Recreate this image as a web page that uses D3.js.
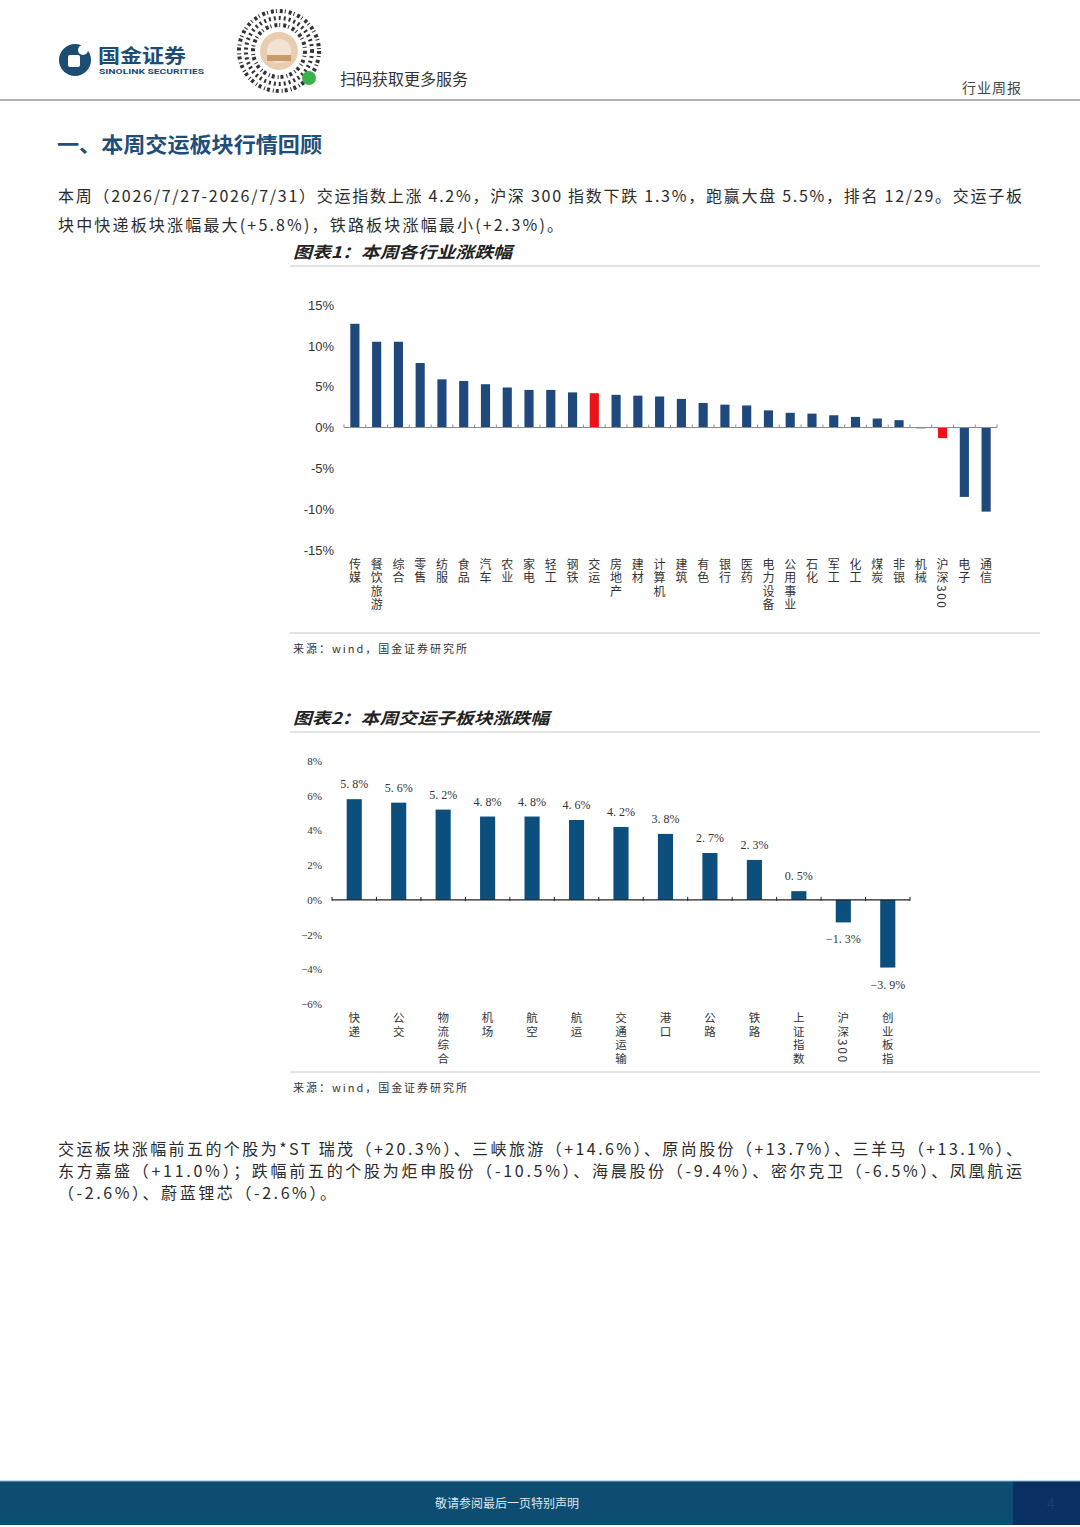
<!DOCTYPE html>
<html lang="zh">
  <head>
    <meta charset="UTF-8" />
    <script src="https://d3js.org/d3.v7.min.js"></script>
    <title>交运行业周报</title>
    <style>
      body { margin: 0; background: #fff; }
      text { font-family: "Noto Sans CJK SC", "Noto Sans", sans-serif; }
      .vlabel { writing-mode: vertical-rl; text-orientation: mixed; }
    </style>
  </head>
  <body>
    <div id="page"></div>

    <script>
      // chart 1: industry weekly change (%)
      const industries = [
        "传媒", "餐饮旅游", "综合", "零售", "纺服", "食品", "汽车", "农业", "家电", "轻工",
        "钢铁", "交运", "房地产", "建材", "计算机", "建筑", "有色", "银行", "医药", "电力设备",
        "公用事业", "石化", "军工", "化工", "煤炭", "非银", "机械", "沪深300", "电子", "通信",
      ];
      const industryChange = [
        12.7, 10.5, 10.5, 7.9, 5.9, 5.7, 5.3, 4.9, 4.6, 4.6,
        4.3, 4.2, 4.0, 3.9, 3.8, 3.5, 3.0, 2.8, 2.7, 2.1,
        1.8, 1.7, 1.5, 1.3, 1.1, 0.9, -0.1, -1.3, -8.5, -10.3,
      ];
      const highlighted = ["交运", "沪深300"];
      const ticks1 = [15, 10, 5, 0, -5, -10, -15];

      // chart 2: transport sub-sectors (%)
      const subSectors = [
        "快递", "公交", "物流综合", "机场", "航空", "航运", "交通运输",
        "港口", "公路", "铁路", "上证指数", "沪深300", "创业板指",
      ];
      const subChange = [5.8, 5.6, 5.2, 4.8, 4.8, 4.6, 4.2, 3.8, 2.7, 2.3, 0.5, -1.3, -3.9];
      const ticks2 = [8, 6, 4, 2, 0, -2, -4, -6];

      const W = 1080, H = 1527;
      const ink = "#2b2b2b";
      const svg = d3.select("#page").append("svg").attr("width", W).attr("height", H);

      // ---------- header ----------
      const head = svg.append("g");
      head.append("circle").attr("cx", 75).attr("cy", 60).attr("r", 16).attr("fill", "#1d4d73");
      head.append("rect").attr("x", 68).attr("y", 55).attr("width", 12).attr("height", 12)
        .attr("rx", 2).attr("fill", "#fff");
      head.append("circle").attr("cx", 83).attr("cy", 50).attr("r", 5).attr("fill", "#fff");
      head.append("text").attr("x", 98).attr("y", 63).text("国金证券")
        .attr("font-size", 19).attr("font-weight", 700).attr("fill", "#1d4d73")
        .attr("textLength", 88).attr("lengthAdjust", "spacingAndGlyphs");
      head.append("text").attr("x", 99).attr("y", 74).text("SINOLINK SECURITIES")
        .attr("font-size", 8).attr("font-weight", 700).attr("fill", "#1d4d73")
        .style("font-family", "Roboto, sans-serif")
        .attr("textLength", 105).attr("lengthAdjust", "spacingAndGlyphs");

      // mini-program code (decorative)
      const qr = head.append("g").attr("transform", "translate(279,51)");
      [40, 33, 26].forEach((r, i) => {
        qr.append("circle").attr("r", r).attr("fill", "none").attr("stroke", "#333")
          .attr("stroke-width", 4).attr("stroke-dasharray", i === 1 ? "2 3" : "3 2 1 3");
      });
      qr.append("circle").attr("r", 19).attr("fill", "#e9cdb0");
      qr.append("circle").attr("r", 12).attr("fill", "#f3e3d3");
      qr.append("rect").attr("x", -12).attr("y", 4).attr("width", 24).attr("height", 6).attr("fill", "#c99a6a");
      qr.append("circle").attr("cx", 30).attr("cy", 27).attr("r", 7).attr("fill", "#3bb34a");
      head.append("text").attr("x", 340).attr("y", 85).text("扫码获取更多服务")
        .attr("font-size", 16).attr("fill", "#333");
      head.append("text").attr("x", 1022).attr("y", 93).text("行业周报")
        .attr("text-anchor", "end").attr("font-size", 14).attr("fill", "#444")
        .attr("letter-spacing", 1);
      head.append("line").attr("x1", 0).attr("x2", W).attr("y1", 100).attr("y2", 100)
        .attr("stroke", "#9a9a9a").attr("stroke-width", 1.5);

      // ---------- text blocks ----------
      svg.append("text").attr("x", 57).attr("y", 152).text("一、本周交运板块行情回顾")
        .attr("font-size", 21).attr("font-weight", 700).attr("fill", "#1f4e79")
        .attr("textLength", 265).attr("lengthAdjust", "spacingAndGlyphs");

      function para(lines, x, y0, lh) {
        lines.forEach(([s, len], i) => {
          const t = svg.append("text").attr("x", x).attr("y", y0 + i * lh).text(s)
            .attr("font-size", 16).attr("fill", ink);
          if (len) t.attr("textLength", len).attr("lengthAdjust", "spacing");
        });
      }
      para([
        ["本周（2026/7/27-2026/7/31）交运指数上涨 4.2%，沪深 300 指数下跌 1.3%，跑赢大盘 5.5%，排名 12/29。交运子板", 964],
        ["块中快递板块涨幅最大(+5.8%)，铁路板块涨幅最小(+2.3%)。", 505],
      ], 58, 202, 29);

      para([
        ["交运板块涨幅前五的个股为*ST 瑞茂（+20.3%）、三峡旅游（+14.6%）、原尚股份（+13.7%）、三羊马（+13.1%）、", 964],
        ["东方嘉盛（+11.0%）；跌幅前五的个股为炬申股份（-10.5%）、海晨股份（-9.4%）、密尔克卫（-6.5%）、凤凰航运", 964],
        ["（-2.6%）、蔚蓝锂芯（-2.6%）。", 278],
      ], 58, 1155, 22);

      // ---------- chart helpers ----------
      function frame(title, titleLen, yTitle, yRule, yBottom) {
        svg.append("text").attr("x", 293).attr("y", yTitle).text(title)
          .attr("font-size", 16).attr("font-weight", 700).attr("font-style", "italic")
          .attr("fill", "#222")
          .attr("textLength", titleLen).attr("lengthAdjust", "spacingAndGlyphs");
        svg.append("line").attr("x1", 290).attr("x2", 1040).attr("y1", yRule).attr("y2", yRule)
          .attr("stroke", "#c8c8c8");
        svg.append("line").attr("x1", 290).attr("x2", 1040).attr("y1", yBottom).attr("y2", yBottom)
          .attr("stroke", "#c8c8c8");
        svg.append("text").attr("x", 293).attr("y", yBottom + 20).text("来源：wind，国金证券研究所")
          .attr("font-size", 11).attr("fill", "#333")
          .attr("textLength", 174).attr("lengthAdjust", "spacing");
      }

      // vertical label, CJK upright, digits turned sideways as in the source
      function vLabels(g, names, x, yTop, size, gap) {
        g.selectAll("text.vlabel").data(names).join("text").attr("class", "vlabel")
          .attr("x", (d) => x(d) + x.bandwidth() / 2)
          .attr("y", yTop)
          .text((d) => d)
          .attr("font-size", size).attr("letter-spacing", gap).attr("fill", "#333");
      }

      // ---------- chart 1 ----------
      frame("图表1：本周各行业涨跌幅", 219, 258, 266, 633);
      const c1 = svg.append("g");
      const x1 = d3.scaleBand().domain(industries).range([344, 997])
        .paddingInner(0.58).paddingOuter(0.29);
      const y1 = d3.scaleLinear().domain([-15, 15]).range([550, 305]);

      c1.append("g").attr("transform", "translate(334,0)")
        .call(d3.axisLeft(y1).tickValues(ticks1).tickSize(0).tickPadding(0)
          .tickFormat((d) => d + "%"))
        .call((g) => g.select(".domain").remove())
        .selectAll("text").attr("font-size", 13).attr("fill", "#333")
        .style("font-family", '"Liberation Sans", Arial, sans-serif');

      c1.selectAll("rect.bar").data(industries).join("rect").attr("class", "bar")
        .attr("x", (d) => x1(d))
        .attr("width", x1.bandwidth())
        .attr("y", (d, i) => y1(Math.max(0, industryChange[i])))
        .attr("height", (d, i) => Math.max(0.8, Math.abs(y1(industryChange[i]) - y1(0))))
        .attr("fill", (d) => (highlighted.includes(d) ? "#e8141a" : "#1f497d"));

      const step1 = x1.step();
      c1.append("line").attr("x1", 344).attr("x2", 997).attr("y1", y1(0)).attr("y2", y1(0))
        .attr("stroke", "#8c8c8c");
      d3.range(industries.length + 1).forEach((i) => {
        const xx = 344 + i * step1;
        c1.append("line").attr("x1", xx).attr("x2", xx).attr("y1", y1(0) - 3).attr("y2", y1(0))
          .attr("stroke", "#8c8c8c");
      });
      vLabels(c1, industries, x1, 558, 12, 1.5);

      // ---------- chart 2 ----------
      frame("图表2：本周交运子板块涨跌幅", 256, 724, 732, 1072);
      const c2 = svg.append("g");
      const x2 = d3.scaleBand().domain(subSectors).range([332, 910])
        .paddingInner(0.66).paddingOuter(0.33);
      const y2 = d3.scaleLinear().domain([-6, 8]).range([1004, 761]);
      const serif = '"Liberation Serif", "Noto Serif CJK SC", serif';

      c2.append("g").attr("transform", "translate(322,0)")
        .call(d3.axisLeft(y2).tickValues(ticks2).tickSize(0).tickPadding(0)
          .tickFormat((d) => (d < 0 ? "−" : "") + Math.abs(d) + "%"))
        .call((g) => g.select(".domain").remove())
        .selectAll("text").attr("font-size", 11).attr("fill", "#333")
        .style("font-family", serif);

      c2.selectAll("rect.bar").data(subSectors).join("rect").attr("class", "bar")
        .attr("x", (d) => x2(d))
        .attr("width", x2.bandwidth())
        .attr("y", (d, i) => y2(Math.max(0, subChange[i])))
        .attr("height", (d, i) => Math.abs(y2(subChange[i]) - y2(0)))
        .attr("fill", "#0c4f7c");

      const fmt = (v) => (v < 0 ? "−" : "") + d3.format(".1f")(Math.abs(v)).replace(".", ". ") + "%";
      c2.selectAll("text.val").data(subSectors).join("text").attr("class", "val")
        .attr("x", (d) => x2(d) + x2.bandwidth() / 2)
        .attr("y", (d, i) => (subChange[i] >= 0 ? y2(subChange[i]) - 11 : y2(subChange[i]) + 21))
        .attr("text-anchor", "middle")
        .text((d, i) => fmt(subChange[i]))
        .attr("font-size", 12).attr("fill", "#333").style("font-family", serif);

      const step2 = x2.step();
      c2.append("line").attr("x1", 332).attr("x2", 910).attr("y1", y2(0)).attr("y2", y2(0))
        .attr("stroke", "#222").attr("stroke-width", 1.3);
      d3.range(subSectors.length + 1).forEach((i) => {
        const xx = 332 + i * step2;
        c2.append("line").attr("x1", xx).attr("x2", xx).attr("y1", y2(0) - 3).attr("y2", y2(0) + 1)
          .attr("stroke", "#222");
      });
      vLabels(c2, subSectors, x2, 1012, 11.5, 2);

      // ---------- footer ----------
      svg.append("rect").attr("x", 0).attr("y", 1481).attr("width", W).attr("height", 44).attr("fill", "#0e4d72");
      svg.append("rect").attr("x", 1013).attr("y", 1481).attr("width", 67).attr("height", 44).attr("fill", "#0c2f63");
      svg.append("line").attr("x1", 0).attr("x2", W).attr("y1", 1481).attr("y2", 1481).attr("stroke", "#7fb8d6");
      svg.append("text").attr("x", 507).attr("y", 1508).text("敬请参阅最后一页特别声明")
        .attr("text-anchor", "middle").attr("font-size", 12).attr("fill", "#dfe8f0");
      svg.append("text").attr("x", 1051).attr("y", 1509).text("4")
        .attr("text-anchor", "middle").attr("font-size", 14).attr("fill", "#1a3d6e");
    </script>
  </body>
</html>
